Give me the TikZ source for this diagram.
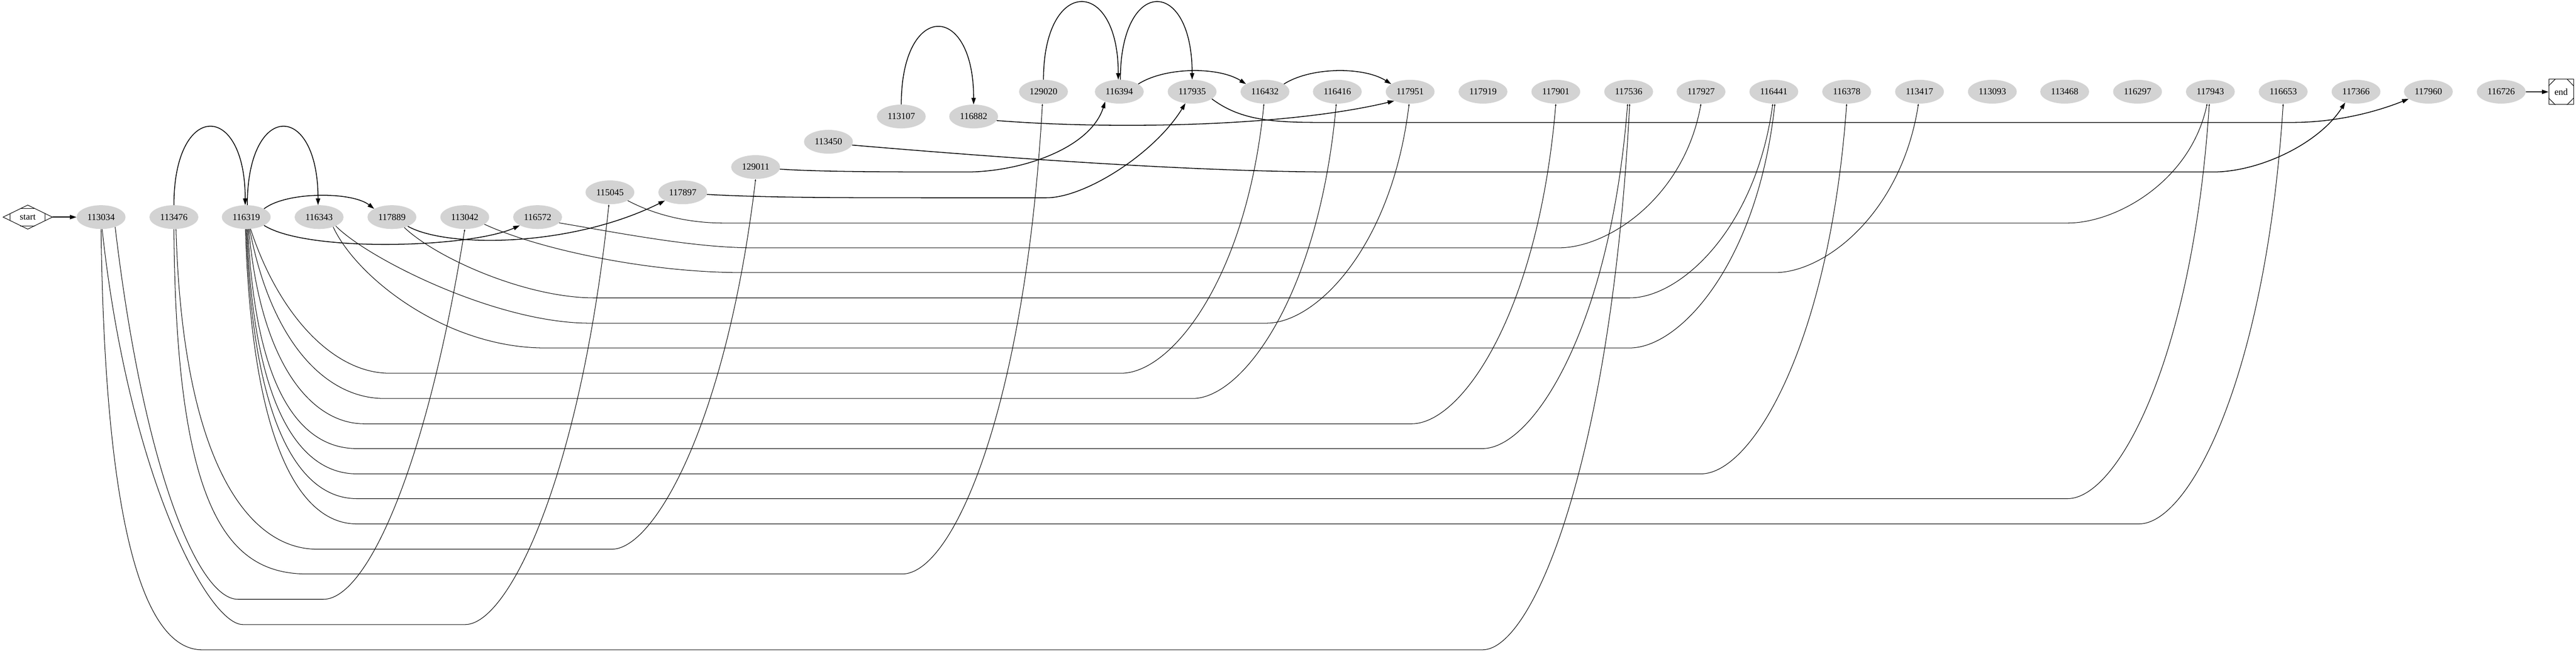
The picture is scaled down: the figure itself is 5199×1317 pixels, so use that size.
\documentclass[tikz,border=0pt]{standalone}
\usepackage{fontspec}
\setmainfont{Liberation Serif}
\usepackage{tikz}
\usetikzlibrary{calc, shapes.geometric, arrows.meta}
\definecolor{nodegray}{RGB}{211, 211, 211}
\tikzset{>={Triangle[length=10pt, width=6.5pt]}}
\tikzset{
  idnode/.style = {ellipse, fill = nodegray, minimum width = 74pt, minimum height = 36pt, inner sep = 0pt, font = \fontsize{14}{16}\selectfont},
  bigarrow/.style = {->, line width = 1.2pt},
  longedge/.style = {-{Triangle[length=3pt, width=2pt]}, line width = 0.8pt}
}
\begin{document}
\begin{tikzpicture}[x = 0.75pt, y = -0.75pt]
\useasboundingbox (0,0) rectangle (5199,1317);
\node[diamond, draw, line width = 0.8pt, aspect = 2, minimum width = 75pt, minimum height = 36.75pt, inner sep = 0pt, font = \fontsize{14}{16}\selectfont] (startnode) at (56,438) {start};
\draw[line width = 0.8pt] ($(startnode.north)!0.3!(startnode.west)$) -- ($(startnode.north)!0.3!(startnode.east)$);
\draw[line width = 0.8pt] ($(startnode.south)!0.3!(startnode.west)$) -- ($(startnode.south)!0.3!(startnode.east)$);
\draw[line width = 0.8pt] ($(startnode.west)!0.3!(startnode.north)$) -- ($(startnode.west)!0.3!(startnode.south)$);
\draw[line width = 0.8pt] ($(startnode.east)!0.3!(startnode.north)$) -- ($(startnode.east)!0.3!(startnode.south)$);
\node[idnode] (n113034) at (204,438) {113034};
\node[idnode] (n113476) at (351,438) {113476};
\node[idnode] (n116319) at (497,438) {116319};
\node[idnode] (n116343) at (644,438) {116343};
\node[idnode] (n117889) at (791,438) {117889};
\node[idnode] (n113042) at (938,438) {113042};
\node[idnode] (n116572) at (1085,438) {116572};
\node[idnode] (n115045) at (1231,388) {115045};
\node[idnode] (n117897) at (1378,388) {117897};
\node[idnode] (n129011) at (1525,337) {129011};
\node[idnode] (n113450) at (1672,286) {113450};
\node[idnode] (n113107) at (1819,235) {113107};
\node[idnode] (n116882) at (1965,235) {116882};
\node[idnode] (n129020) at (2106,185) {129020};
\node[idnode] (n116394) at (2259,185) {116394};
\node[idnode] (n117935) at (2406,185) {117935};
\node[idnode] (n116432) at (2553,185) {116432};
\node[idnode] (n116416) at (2699,185) {116416};
\node[idnode] (n117951) at (2846,185) {117951};
\node[idnode] (n117919) at (2993,185) {117919};
\node[idnode] (n117901) at (3140,185) {117901};
\node[idnode] (n117536) at (3287,185) {117536};
\node[idnode] (n117927) at (3433,185) {117927};
\node[idnode] (n116441) at (3580,185) {116441};
\node[idnode] (n116378) at (3727,185) {116378};
\node[idnode] (n113417) at (3874,185) {113417};
\node[idnode] (n113093) at (4021,185) {113093};
\node[idnode] (n113468) at (4167,185) {113468};
\node[idnode] (n116297) at (4314,185) {116297};
\node[idnode] (n117943) at (4461,185) {117943};
\node[idnode] (n116653) at (4608,185) {116653};
\node[idnode] (n117366) at (4755,185) {117366};
\node[idnode] (n117960) at (4901,185) {117960};
\node[idnode] (n116726) at (5048,185) {116726};
\node[draw, line width = 0.8pt, minimum width = 37.5pt, minimum height = 38.25pt, inner sep = 0pt, font = \fontsize{14}{16}\selectfont] (endnode) at (5169,185.5) {end};
\draw[line width = 0.8pt] ($(endnode.north west)!0.27!(endnode.north east)$) -- ($(endnode.north west)!0.27!(endnode.south west)$);
\draw[line width = 0.8pt] ($(endnode.north east)!0.27!(endnode.north west)$) -- ($(endnode.north east)!0.27!(endnode.south east)$);
\draw[line width = 0.8pt] ($(endnode.south west)!0.27!(endnode.south east)$) -- ($(endnode.south west)!0.27!(endnode.north west)$);
\draw[line width = 0.8pt] ($(endnode.south east)!0.27!(endnode.south west)$) -- ($(endnode.south east)!0.27!(endnode.north east)$);
\draw[bigarrow] (startnode) -- (n113034);
\draw[bigarrow] (n116726) -- (endnode);
\draw[bigarrow] (n113476.north) .. controls +(0,-210) and +(0,-210) .. (n116319.95);
\draw[bigarrow] (n116319.85) .. controls +(0,-210) and +(0,-210) .. (n116343.95);
\draw[bigarrow] (n116319.25) .. controls +(45,-35) and +(-45,-35) .. (n117889.155);
\draw[bigarrow] (n113107.north) .. controls +(0,-208) and +(0,-208) .. (n116882.north);
\draw[bigarrow] (n129020.north) .. controls +(0,-208) and +(0,-208) .. (n116394.95);
\draw[bigarrow] (n116394.85) .. controls +(0,-208) and +(0,-208) .. (n117935.north);
\draw[bigarrow] (n116394.22) .. controls +(55,-35) and +(-55,-35) .. (n116432.158);
\draw[bigarrow] (n116432.22) .. controls +(55,-35) and +(-55,-35) .. (n117951.158);
\draw[bigarrow] (n116882.-10) .. controls (2250,262) and (2600,255) .. (n117951.210);
\draw[bigarrow] (n117935.-20) .. controls (2500,240) and (2560,247) .. (2660,247) -- (4627,247) .. controls (4710,247) and (4790,228) .. (n117960.200);
\draw[bigarrow] (n129011.-5) .. controls (1650,346) and (1750,347) .. (1950,347) .. controls (2060,347) and (2200,300) .. (n116394.215);
\draw[bigarrow] (n113450.-8) .. controls (2100,325) and (2450,347) .. (2700,347) -- (4466,347) .. controls (4560,347) and (4680,290) .. (n117366.225);
\draw[bigarrow] (n117897.-5) .. controls (1550,399) and (1700,399) .. (1900,399) -- (2112,399) .. controls (2190,399) and (2330,310) .. (n117935.240);
\draw[bigarrow] (n116319.-25) .. controls (620,510) and (950,500) .. (n116572.205);
\draw[bigarrow] (n117889.-30) .. controls (900,500) and (1150,500) .. (n117897.205);
\draw[longedge] (n113034.south) .. controls (212,1100) and (300,1311) .. (408,1311) -- (2992,1311) .. controls (3095,1311) and (3252,925) .. (n117536.-85);
\draw[longedge] (n113034.-85) .. controls (260,960) and (420,1260) .. (490,1260) -- (939,1260) .. controls (1026,1260) and (1171,963) .. (n115045.-95);
\draw[longedge] (n113034.-35) .. controls (290,946) and (400,1209) .. (480,1209) -- (653,1209) .. controls (739,1209) and (860,948) .. (n113042.south);
\draw[longedge] (n113476.-80) .. controls (368,930) and (500,1108) .. (640,1108) -- (1235,1108) .. controls (1322,1108) and (1467,847) .. (n129011.south);
\draw[longedge] (n113476.south) .. controls (355,1030) and (460,1158) .. (620,1158) -- (1821,1158) .. controls (1923,1158) and (2069,826) .. (n129020.-95);
\draw[longedge] (n116319.-70) .. controls (563,637) and (674,753) .. (786,753) -- (2263,753) .. controls (2364,753) and (2516,563) .. (n116432.-95);
\draw[longedge] (n116319.-74) .. controls (546,685) and (654,804) .. (776,804) -- (2407,804) .. controls (2508,804) and (2662,596) .. (n116416.-95);
\draw[longedge] (n116319.-78) .. controls (526,737) and (630,855) .. (735,855) -- (2849,855) .. controls (2951,855) and (3105,629) .. (n117901.south);
\draw[longedge] (n116319.-82) .. controls (515,794) and (610,905) .. (720,905) -- (2992,905) .. controls (3094,905) and (3250,661) .. (n117536.-95);
\draw[longedge] (n116319.-86) .. controls (511,833) and (610,956) .. (720,956) -- (3433,956) .. controls (3536,956) and (3692,695) .. (n116378.south);
\draw[longedge] (n116319.-90) .. controls (510,870) and (610,1006) .. (720,1006) -- (4173,1006) .. controls (4273,1006) and (4425,727) .. (n117943.-95);
\draw[longedge] (n116319.-94) .. controls (509,908) and (610,1057) .. (720,1057) -- (4317,1057) .. controls (4419,1057) and (4573,760) .. (n116653.south);
\draw[longedge] (n117889.-40) .. controls (880,520) and (1060,601) .. (1200,601) -- (3289,601) .. controls (3390,601) and (3543,464) .. (n116441.-95);
\draw[longedge] (n116343.-28) .. controls (740,520) and (1000,652) .. (1190,652) -- (2556,652) .. controls (2657,652) and (2809,497) .. (n117951.-95);
\draw[longedge] (n116343.-35) .. controls (720,560) and (900,702) .. (1100,702) -- (3289,702) .. controls (3392,702) and (3547,529) .. (n116441.-85);
\draw[longedge] (n113042.-20) .. controls (1080,500) and (1300,550) .. (1500,550) -- (3582,550) .. controls (3683,550) and (3837,431) .. (n113417.-95);
\draw[longedge] (n116572.-15) .. controls (1250,470) and (1400,500) .. (1520,500) -- (3146,500) .. controls (3246,500) and (3399,398) .. (n117927.south);
\draw[longedge] (n115045.-25) .. controls (1330,438) and (1400,450) .. (1460,450) -- (4173,450) .. controls (4271,450) and (4421,366) .. (n117943.-105);
\end{tikzpicture}
\end{document}
